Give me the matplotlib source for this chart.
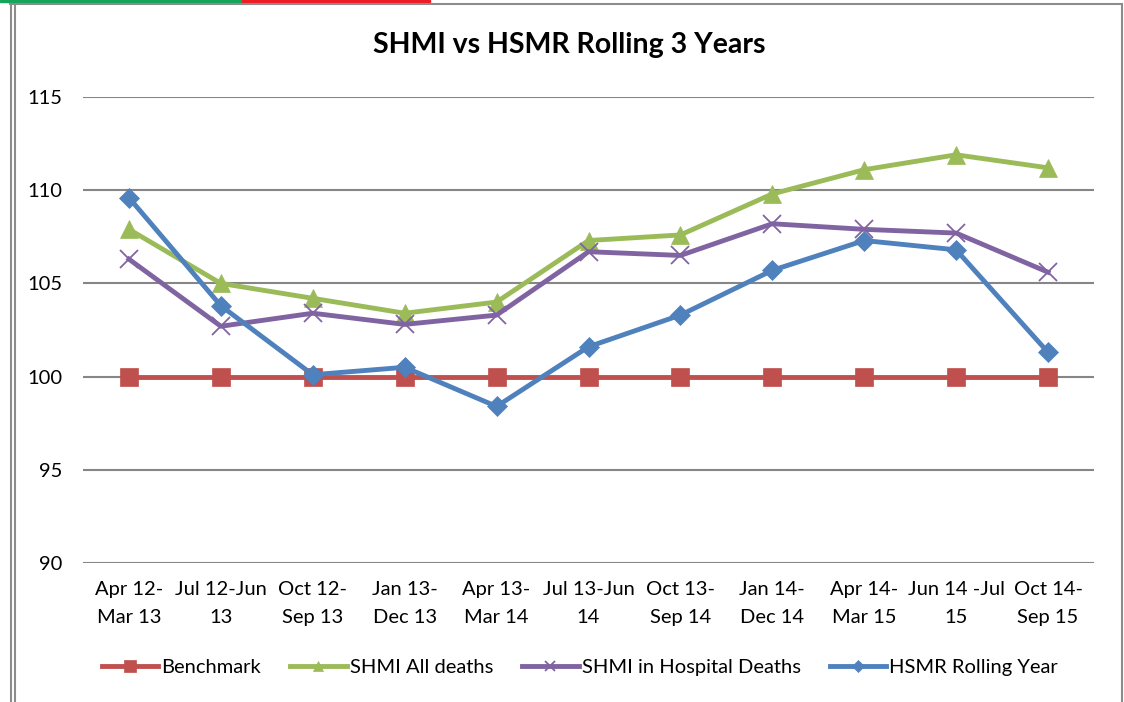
import numpy as np
import matplotlib
matplotlib.use('Agg')
import matplotlib.pyplot as plt
from matplotlib.lines import Line2D
from matplotlib.patches import Rectangle

plt.rcParams['font.family'] = ['Lato', 'DejaVu Sans']

periods = ['Apr 12-\nMar 13', 'Jul 12-Jun\n13', 'Oct 12-\nSep 13', 'Jan 13-\nDec 13',
           'Apr 13-\nMar 14', 'Jul 13-Jun\n14', 'Oct 13-\nSep 14', 'Jan 14-\nDec 14',
           'Apr 14-\nMar 15', 'Jun 14 -Jul\n15', 'Oct 14-\nSep 15']

benchmark = [100, 100, 100, 100, 100, 100, 100, 100, 100, 100, 100]
shmi_all = [107.9, 105.0, 104.2, 103.4, 104.0, 107.3, 107.6, 109.8, 111.1, 111.9, 111.2]
shmi_hosp = [106.3, 102.7, 103.4, 102.8, 103.3, 106.7, 106.5, 108.2, 107.9, 107.7, 105.6]
hsmr = [109.6, 103.8, 100.1, 100.5, 98.4, 101.6, 103.3, 105.7, 107.3, 106.8, 101.3]

W, H = 1124, 702
fig = plt.figure(figsize=(W / 100, H / 100), dpi=100)
ax = fig.add_axes([83 / W, 1 - 563 / H, (1094 - 83) / W, (563 - 97) / H])

x = np.arange(len(periods))
lw = 3.5
ax.plot(x, benchmark, color='#C0504D', lw=lw, marker='s', ms=13.5, mec='#C0504D', mew=0.5,
        label='Benchmark', zorder=3)
ax.plot(x, shmi_all, color='#9BBB59', lw=lw, marker='^', ms=13, mec='#9BBB59', mew=0.5,
        label='SHMI All deaths', zorder=4)
ax.plot(x, shmi_hosp, color='#8064A2', lw=lw, marker='x', ms=13, mec='#8064A2', mew=1.3,
        label='SHMI in Hospital Deaths', zorder=5)
ax.plot(x, hsmr, color='#4F81BD', lw=lw, marker='D', ms=10, mec='#4F81BD', mew=0.5,
        label='HSMR Rolling Year', zorder=6)

ax.set_xlim(-0.5, len(periods) - 0.5)
ax.set_ylim(90, 115)
ax.set_yticks([90, 95, 100, 105, 110, 115])
ax.set_xticks(x)
ax.set_xticklabels(periods, fontsize=14.5, linespacing=1.75)
ax.tick_params(axis='y', length=0, pad=15, labelsize=14.5)
ax.tick_params(axis='x', length=0, pad=13)
ax.grid(axis='y', color='#868686', lw=1.5)
ax.set_axisbelow(True)
for s in ax.spines.values():
    s.set_visible(False)

fig.text(569 / W, 1 - 45 / H, 'SHMI vs HSMR Rolling 3 Years', ha='center', va='center',
         fontsize=20.5, fontweight='bold')

leg = ax.legend(loc='center', bbox_to_anchor=(580 / W, 1 - 667 / H), bbox_transform=fig.transFigure,
                ncol=4, frameon=False, fontsize=14.5, handlelength=2.8, handletextpad=0.15,
                columnspacing=1.45, markerscale=0.6)

# frame lines around the chart
def fline(xs, ys, c='#8c8c8c', w=1.5):
    fig.add_artist(Line2D([v / W for v in xs], [1 - v / H for v in ys], color=c, lw=w))

fline([10.5, 10.5], [4, H])
fline([14.5, 14.5], [4, H])
fline([10, 1122], [4, 4])
fline([1122, 1122], [4, H])
fig.add_artist(Rectangle((0, 1 - 2 / H), 242 / W, 2 / H, color='#13a55a', transform=fig.transFigure))
fig.add_artist(Rectangle((242 / W, 1 - 2 / H), 188 / W, 2 / H, color='#ee1c25', transform=fig.transFigure))

fig.savefig('out.png', dpi=100)
